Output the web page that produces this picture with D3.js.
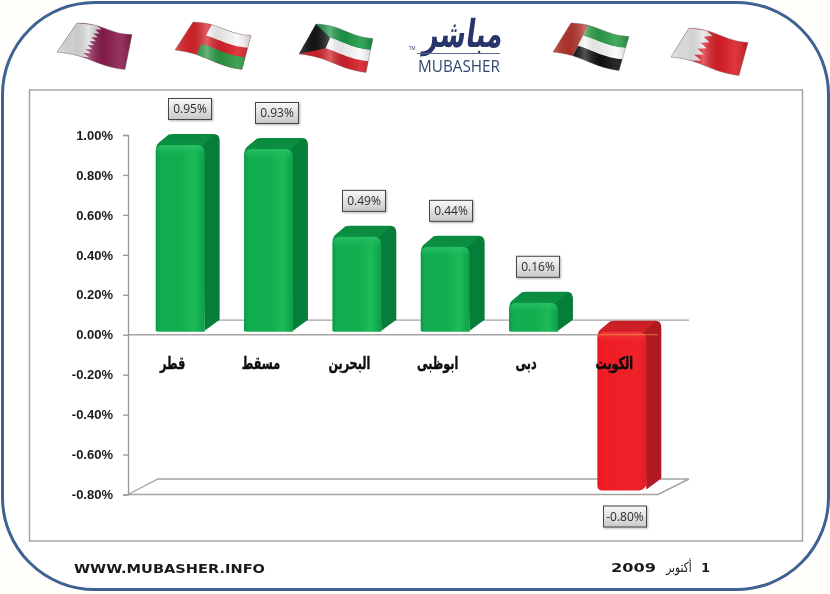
<!DOCTYPE html>
<html><head><meta charset="utf-8">
<script src="https://cdn.jsdelivr.net/npm/d3@7"></script>
<style>
html,body{margin:0;padding:0;background:#fff}
svg{display:block;filter:blur(.35px)}
</style></head><body>
<svg id="c" width="830" height="594"></svg>
<script>
const categories = ["قطر","مسقط","البحرين","ابوظبى","دبى","الكويت"];
const values = [0.95,0.93,0.49,0.44,0.16,-0.80];
const tickValues = [1.0,0.8,0.6,0.4,0.2,0,-0.2,-0.4,-0.6,-0.8];

const pct = v => d3.format(".2f")(v).replace("\u2212","-") + "%";
const svg = d3.select("#c");
const defs = svg.append("defs");
function grad(id,stops,dir){
  const g=defs.append("linearGradient").attr("id",id);
  if(dir==="v") g.attr("x1",0).attr("y1",0).attr("x2",0).attr("y2",1);
  stops.forEach(s=>g.append("stop").attr("offset",s[0]).attr("stop-color",s[1]).attr("stop-opacity",s[2]===undefined?1:s[2]));
}
grad("gFront",[[0,"#0b9c48"],[.1,"#12ad50"],[.5,"#10ad4e"],[.8,"#1cbb58"],[.93,"#10a94c"],[1,"#0d9e48"]]);
grad("gRed",[[0,"#e01a24"],[.1,"#ee1c25"],[.8,"#f0222a"],[1,"#e01c26"]]);
grad("gTopG",[[0,"#0a8a40"],[1,"#0c9444"]],"v");
grad("gTopR",[[0,"#c81e26"],[1,"#d8222a"]],"v");
grad("gRimG",[[0,"#2cc268",.9],[1,"#12ad50",0]],"v");
grad("gRimR",[[0,"#f5444a",.8],[1,"#ee1c25",0]],"v");
grad("gBox",[[0,"#f8f8f8"],[1,"#c9c9c9"]],"v");
grad("gWave",[[0,"#fff",.2],[.2,"#000",.06],[.42,"#fff",.28],[.62,"#000",.08],[.82,"#fff",.1],[1,"#000",.2]]);
const sh=defs.append("filter").attr("id","shadow").attr("x","-20%").attr("y","-20%").attr("width","150%").attr("height","150%");
sh.append("feDropShadow").attr("dx",1).attr("dy",1).attr("stdDeviation",1).attr("flood-color","#000").attr("flood-opacity",.3);

// page frame
svg.append("rect").attr("width",830).attr("height",594).attr("fill","#fffefb");
svg.append("rect").attr("x",2.5).attr("y",2.5).attr("width",826).attr("height",587).attr("rx",92).attr("ry",92)
  .attr("fill","#ffffff").attr("stroke","#3f6294").attr("stroke-width",3);
svg.append("rect").attr("x",29.5).attr("y",90).attr("width",773).attr("height",451)
  .attr("fill","#fff").attr("stroke","#a0a0a0").attr("stroke-width",1.4);

// scales
const xLeft=128, xRight=658, barShift=8, dx=15, dy=11, baseLift=3, negLift=4;
const x=d3.scaleBand().domain(categories).range([xLeft,xRight]).paddingInner(.446).paddingOuter(.223);
const y=d3.scaleLinear().domain([-0.8,1.0]).range([494.5,135]);
const boxX=d3.scalePoint().domain(categories).range([190,625]);

// floor and zero plane
const gridC="#a4a4a4";
const bot=y(-0.8), y0=y(0);
svg.append("path").attr("d",d3.line()([[xLeft,bot],[xLeft+30,bot-15.5],[xRight+31,bot-15.5],[xRight,bot],[xLeft,bot]]))
  .attr("fill","none").attr("stroke",gridC).attr("stroke-width",1.4);
svg.append("line").attr("x1",205).attr("x2",xRight+31).attr("y1",y0-14.5).attr("y2",y0-14.5).attr("stroke",gridC).attr("stroke-width",1.3);
svg.append("line").attr("x1",xLeft).attr("x2",xRight).attr("y1",y0).attr("y2",y0).attr("stroke",gridC).attr("stroke-width",1.5);

// axis
const axis=d3.axisLeft(y).tickValues(tickValues).tickSize(5).tickPadding(10).tickFormat(pct);
const ag=svg.append("g").attr("transform",`translate(${xLeft},0)`).call(axis);
ag.selectAll("path,line").attr("stroke","#999").attr("stroke-width",1.3);
ag.selectAll("text").attr("font-family","'Liberation Sans'").attr("font-weight","bold").attr("font-size",13).attr("fill","#1a1a1a");

// bars
const bars=svg.append("g").selectAll("g").data(categories.map((c,i)=>({c,v:values[i]}))).join("g");
bars.each(function(d){
  const g=d3.select(this), pos=d.v>=0;
  const l=x(d.c)+barShift, w=x.bandwidth(), r=l+w;
  const t=pos?y(d.v):y0-baseLift, b=pos?y0-baseLift:y(d.v)-negLift;
  const R=Math.min(8,(b-t)/3);
  g.append("path").attr("fill",pos?"url(#gTopG)":"url(#gTopR)")
    .attr("d",`M${l},${t+R} Q${l},${t} ${l+3},${t-2.2} L${l+dx-2},${t-dy+.5} Q${l+dx},${t-dy} ${l+dx+2},${t-dy} L${r+dx-6},${t-dy} Q${r+dx},${t-dy} ${r+dx-1},${t-dy+6} L${r},${t+5} Z`);
  g.append("path").attr("fill",pos?"#067e3a":"#b11a22")
    .attr("d",`M${r-3},${t+1} L${r+dx-6},${t-dy+1} Q${r+dx},${t-dy} ${r+dx},${t-dy+7} L${r+dx},${b-dy-1} L${r},${b-1} Z`);
  const front=`M${l},${t+R} Q${l},${t} ${l+R},${t} L${r-R},${t} Q${r},${t} ${r},${t+R} L${r},${b-(pos?0:5)} Q${r-3},${b} ${r-8},${b} L${l+5},${b} Q${l},${b} ${l},${b-(pos?1:5)} Z`;
  g.append("path").attr("fill",pos?"url(#gFront)":"url(#gRed)").attr("d",front);
  g.append("rect").attr("x",l+1).attr("y",t+.5).attr("width",w-2).attr("height",Math.min(12,(b-t)*.4)).attr("rx",5)
    .attr("fill",pos?"url(#gRimG)":"url(#gRimR)");
});
// zero line shows faintly through the red bar
svg.append("line").attr("x1",x(categories[5])+barShift).attr("x2",xRight).attr("y1",y0).attr("y2",y0).attr("stroke","#e8b040").attr("stroke-width",1).attr("opacity",.6);

// category labels
svg.append("g").selectAll("text").data(categories).join("text")
  .attr("transform",d=>`translate(${x(d)+x.bandwidth()/2+.5},${y0+34}) scale(.77,1.15)`)
  .attr("text-anchor","middle").attr("direction","rtl")
  .attr("font-family","'DejaVu Sans'").attr("font-weight","bold").attr("font-size",14.5)
  .attr("fill","#0c0c0c").attr("stroke","#0c0c0c").attr("stroke-width",.35).text(d=>d);

// value boxes
const boxW=43,boxH=21;
const vb=svg.append("g").selectAll("g").data(categories.map((c,i)=>({c,v:values[i]}))).join("g")
  .attr("transform",d=>`translate(${boxX(d.c)},${y(d.v)+(d.v>=0?-36:22)})`);
vb.append("rect").attr("x",-boxW/2).attr("y",-boxH/2).attr("width",boxW).attr("height",boxH)
  .attr("fill","url(#gBox)").attr("stroke","#444").attr("stroke-width",1).attr("filter","url(#shadow)");
vb.append("text").attr("text-anchor","middle").attr("dy","0.36em").attr("font-family","'Open Sans'").attr("font-size",12).attr("fill","#2c2c2c")
  .text(d=>pct(d.v));

// flags (decorative header)
function flag(c,draw){
  const [TL,TR,BR,BL]=c;
  const p=(u,v)=>{
    const tx=TL[0]+(TR[0]-TL[0])*u, ty=TL[1]+(TR[1]-TL[1])*u, bx=BL[0]+(BR[0]-BL[0])*u, by=BL[1]+(BR[1]-BL[1])*u;
    const wave=-1.6*Math.sin(Math.PI*2*u*0.95);
    return [tx+(bx-tx)*v, ty+(by-ty)*v+wave];
  };
  const g=svg.append("g");
  const poly=(u0,v0,u1,v1,fill,op)=>{
    const pts=[];const N=18;
    for(let i=0;i<=N;i++)pts.push(p(u0+(u1-u0)*i/N,v0));
    for(let i=N;i>=0;i--)pts.push(p(u0+(u1-u0)*i/N,v1));
    g.append("path").attr("d",d3.line()(pts)+"Z").attr("fill",fill).attr("opacity",op===undefined?1:op);
  };
  const raw=(pts,fill)=>g.append("path").attr("d",d3.line()(pts.map(a=>p(a[0],a[1])))+"Z").attr("fill",fill);
  draw(poly,raw);
  poly(0,0,1,1,"url(#gWave)");
  const pts=[];for(let i=0;i<=18;i++)pts.push(p(i/18,0));for(let i=18;i>=0;i--)pts.push(p(i/18,1));
  g.append("path").attr("d",d3.line()(pts)+"Z").attr("fill","none").attr("stroke","#666").attr("stroke-width",.6).attr("opacity",.6);
}
function serrated(n,a,b){const s=[];for(let i=0;i<n;i++){s.push([a,i/n]);s.push([b,(i+.5)/n]);}s.push([a,1]);return s;}
flag([[77,23],[132,34],[125,69],[57,52]],(poly,raw)=>{
  poly(0,0,1,1,"#8c1d50");
  raw([[0,0],...serrated(8,.36,.46),[0,1]],"#dcdcdc");
});
flag([[193,22],[251,35],[242,69],[175,50]],(poly)=>{
  poly(0,0,1,1,"#d9232b");
  poly(.32,0,1,.36,"#f8f8f8");
  poly(.32,.64,1,1,"#2c9a45");
});
flag([[316,24],[373,38],[366,72],[299,54]],(poly,raw)=>{
  poly(0,0,1,.34,"#1e9a48");
  poly(0,.34,1,.67,"#fafafa");
  poly(0,.67,1,1,"#d3202a");
  raw([[0,0],[.33,.34],[.33,.67],[0,1]],"#161616");
});
flag([[571,23],[629,36],[619,70],[553,52]],(poly)=>{
  poly(0,0,.3,1,"#b5352c");
  poly(.3,0,1,.34,"#2ea04b");
  poly(.3,.34,1,.67,"#fafafa");
  poly(.3,.67,1,1,"#111");
});
flag([[689,28],[748,42],[739,75],[671,57]],(poly,raw)=>{
  poly(0,0,1,1,"#dc1f27");
  raw([[0,0],...serrated(5,.3,.42),[0,1]],"#e6e6e6");
});

// logo
svg.append("text").attr("transform","translate(462,47) skewX(-8) scale(.82,1.2)").attr("text-anchor","middle").attr("direction","rtl")
  .attr("font-family","'DejaVu Sans'").attr("font-weight","bold").attr("font-size",32).attr("fill","#27356b").text("مباشر");
svg.append("line").attr("x1",417).attr("x2",500).attr("y1",53.5).attr("y2",53.5).attr("stroke","#5a6a92").attr("stroke-width",1);
svg.append("text").attr("x",418).attr("y",72).attr("textLength",82).attr("lengthAdjust","spacingAndGlyphs")
  .attr("font-family","'Open Sans'").attr("font-size",17).attr("fill","#33466f").text("MUBASHER");
svg.append("text").attr("x",409).attr("y",50).attr("font-family","'Open Sans'").attr("font-size",4.5).attr("fill","#33466f").text("TM");

// footer
svg.append("text").attr("x",74).attr("y",573).attr("textLength",191).attr("lengthAdjust","spacingAndGlyphs")
  .attr("font-family","'DejaVu Sans'").attr("font-weight","bold").attr("font-size",12.5).attr("fill","#1a1a1a").text("WWW.MUBASHER.INFO");
svg.append("text").attr("x",611).attr("y",572).attr("textLength",45).attr("lengthAdjust","spacingAndGlyphs")
  .attr("font-family","'DejaVu Sans'").attr("font-weight","bold").attr("font-size",13).attr("fill","#1a1a1a").text("2009");
svg.append("text").attr("transform","translate(679,572) scale(.85,1.1)").attr("text-anchor","middle").attr("direction","rtl")
  .attr("font-family","'DejaVu Sans'").attr("font-size",12.5).attr("fill","#1a1a1a").text("أكتوبر");
svg.append("text").attr("x",701).attr("y",572)
  .attr("font-family","'DejaVu Sans'").attr("font-weight","bold").attr("font-size",13).attr("fill","#1a1a1a").text("1");
</script>
</body></html>
